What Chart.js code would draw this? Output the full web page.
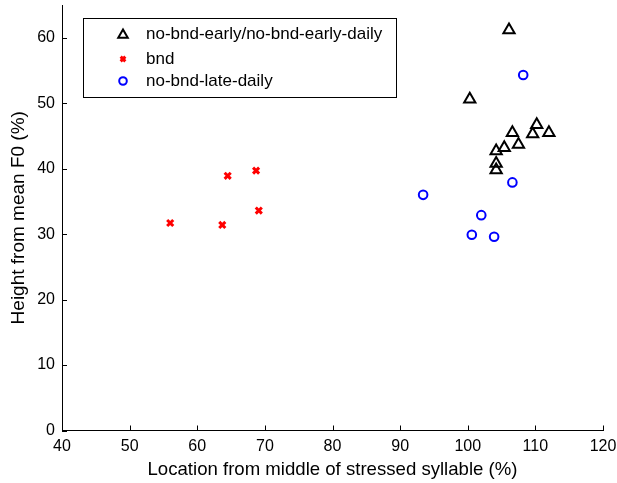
<!DOCTYPE html>
<html>
<head>
<meta charset="utf-8">
<script src="https://cdn.jsdelivr.net/npm/chart.js@4"></script>
<style>
html,body{margin:0;padding:0;background:#fff;}
#wrap{width:617px;height:483px;}
</style>
</head>
<body>
<div id="wrap"><canvas id="c" width="617" height="483"></canvas></div>
<script>
const seriesLabels = ['no-bnd-early/no-bnd-early-daily', 'bnd', 'no-bnd-late-daily'];
const earlyX = [106.1, 100.3, 110.2, 106.6, 109.6, 112.0, 107.5, 105.4, 104.2, 104.2, 104.2];
const earlyY = [61.2, 50.6, 46.7, 45.5, 45.3, 45.5, 43.7, 43.2, 42.7, 40.8, 39.8];
const bndX = [64.5, 68.7, 69.1, 56.0, 63.7];
const bndY = [38.9, 39.7, 33.6, 31.7, 31.4];
const lateX = [108.2, 106.6, 93.4, 102.0, 100.6, 103.9];
const lateY = [54.3, 37.9, 36.0, 32.9, 29.9, 29.6];
const xTicks = [40, 50, 60, 70, 80, 90, 100, 110, 120];
const yTicks = [0, 10, 20, 30, 40, 50, 60];
const xTitle = 'Location from middle of stressed syllable (%)';
const yTitle = 'Height from mean F0 (%)';

const pts = (xs, ys) => xs.map((x, i) => ({x: x, y: ys[i]}));
const FONT = 'Liberation Sans, Arial, sans-serif';

const styles = [
  {pointStyle: 'triangle', radius: 6.5, borderColor: '#000', backgroundColor: 'rgba(0,0,0,0)', borderWidth: 2},
  {pointStyle: 'crossRot', radius: 4.3, borderColor: '#ff0000', backgroundColor: '#ff0000', borderWidth: 3},
  {pointStyle: 'circle', radius: 4.3, borderColor: '#0000ff', backgroundColor: 'rgba(0,0,0,0)', borderWidth: 2}
];
const dataSets = [pts(earlyX, earlyY), pts(bndX, bndY), pts(lateX, lateY)];

const inwardTicks = {
  id: 'inwardTicks',
  afterDraw(chart) {
    const ctx = chart.ctx, xs = chart.scales.x, ys = chart.scales.y;
    const ca = chart.chartArea;
    ctx.save();
    ctx.strokeStyle = '#000';
    ctx.lineWidth = 1;
    ctx.beginPath();
    xs.ticks.forEach(t => {
      const p = Math.round(xs.getPixelForValue(t.value)) + 0.5;
      ctx.moveTo(p, ca.bottom);
      ctx.lineTo(p, ca.bottom - 5);
    });
    ys.ticks.forEach(t => {
      const p = Math.round(ys.getPixelForValue(t.value)) + 0.5;
      ctx.moveTo(ca.left, p);
      ctx.lineTo(ca.left + 5, p);
    });
    ctx.stroke();
    ctx.restore();
  }
};

const boxLegend = {
  id: 'boxLegend',
  afterDraw(chart) {
    const ctx = chart.ctx;
    const bx = 83.5, by = 18.5, bw = 313, bh = 79;
    ctx.save();
    ctx.fillStyle = '#fff';
    ctx.fillRect(bx, by, bw, bh);
    ctx.strokeStyle = '#000';
    ctx.lineWidth = 1;
    ctx.strokeRect(bx, by, bw, bh);
    const rows = [34, 59, 81];
    chart.data.datasets.forEach((ds, i) => {
      const s = styles[i];
      ctx.strokeStyle = s.borderColor;
      ctx.fillStyle = s.backgroundColor;
      ctx.lineWidth = s.borderWidth;
      Chart.helpers.drawPoint(ctx, {pointStyle: s.pointStyle, radius: i === 0 ? 5.5 : (i === 1 ? 3.3 : 3.8), borderWidth: s.borderWidth, rotation: 0}, 123, rows[i] + (i === 0 ? 1 : 0));
      ctx.fillStyle = '#000';
      ctx.font = '17px ' + FONT;
      ctx.textBaseline = 'middle';
      ctx.textAlign = 'left';
      ctx.fillText(ds.label, 146, rows[i]);
    });
    ctx.restore();
  }
};

new Chart(document.getElementById('c'), {
  type: 'scatter',
  data: {
    datasets: dataSets.map((d, i) => ({
      label: seriesLabels[i],
      data: d,
      pointRadius: styles[i].radius,
      pointHoverRadius: styles[i].radius,
      pointStyle: styles[i].pointStyle,
      pointBorderColor: styles[i].borderColor,
      pointBackgroundColor: styles[i].backgroundColor,
      pointBorderWidth: styles[i].borderWidth,
      showLine: false,
      clip: false
    }))
  },
  options: {
    responsive: false,
    animation: false,
    devicePixelRatio: 1,
    layout: {autoPadding: false, padding: {top: 5, right: 14, left: 0, bottom: 0}},
    plugins: {legend: {display: false}, tooltip: {enabled: false}},
    scales: {
      x: {
        type: 'linear', min: 40, max: 120,
        afterBuildTicks: s => { s.ticks = xTicks.map(v => ({value: v})); },
        afterFit: s => { s.height = 52.5; s.paddingLeft = 0; s.paddingRight = 0; s.paddingTop = 0; s.paddingBottom = 0; },
        ticks: {color: '#000', font: {family: FONT, size: 16}, padding: 6, maxRotation: 0, autoSkip: false},
        grid: {display: true, drawOnChartArea: false, drawTicks: false},
        border: {display: true, color: '#000', width: 1},
        title: {display: true, text: xTitle, color: '#000', font: {family: FONT, size: 18.6, lineHeight: 1.4}, padding: 0}
      },
      y: {
        type: 'linear', min: 0, max: 65,
        afterBuildTicks: s => { s.ticks = yTicks.map(v => ({value: v})); },
        afterFit: s => { s.width = 62; s.paddingTop = 0; s.paddingBottom = 0; s.paddingLeft = 0; s.paddingRight = 0; },
        ticks: {color: '#000', font: {family: FONT, size: 16}, padding: 7, autoSkip: false},
        grid: {display: true, drawOnChartArea: false, drawTicks: false},
        border: {display: true, color: '#000', width: 1},
        title: {display: true, text: yTitle, color: '#000', font: {family: FONT, size: 19, lineHeight: 2}, padding: 0}
      }
    }
  },
  plugins: [inwardTicks, boxLegend]
});
</script>
</body>
</html>
